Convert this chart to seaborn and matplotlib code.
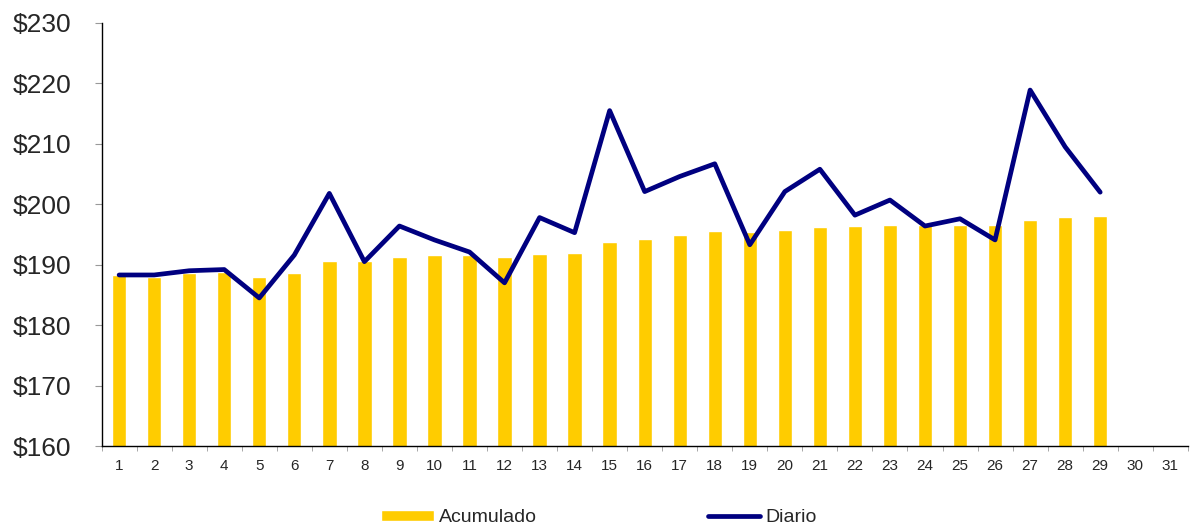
import numpy as np
import pandas as pd
import matplotlib
matplotlib.use("Agg")
import matplotlib.pyplot as plt
import seaborn as sns
from matplotlib.ticker import FuncFormatter, FixedLocator

# ------------------ Data ------------------
days = list(range(1, 32))
acumulado = [188.3, 188.0, 188.7, 188.8, 188.0, 188.6, 190.6, 190.6, 191.2, 191.6,
             191.6, 191.2, 191.8, 192.0, 193.7, 194.3, 194.9, 195.6, 195.4, 195.8,
             196.2, 196.4, 196.6, 196.6, 196.6, 196.6, 197.4, 197.9, 198.1]
diario = [188.3, 188.3, 189.0, 189.2, 184.5, 191.6, 201.8, 190.5, 196.4, 194.1,
          192.1, 187.0, 197.8, 195.3, 215.5, 202.1, 204.6, 206.7, 193.3, 202.1,
          205.8, 198.2, 200.7, 196.4, 197.6, 194.1, 218.9, 209.5, 202.0]

yellow = "#FFCC00"
navy = "#000080"

day_labels = [str(d) for d in days]
n = len(acumulado)
df = pd.DataFrame({"dia": day_labels[:n], "acumulado": acumulado, "diario": diario})
df["pos"] = df.index  # categorical position of each day

sns.set_style("white")
plt.rcParams["font.family"] = ["Liberation Sans", "DejaVu Sans"]

fig = plt.figure(figsize=(11.91, 5.27), dpi=100)
ax = fig.add_axes([0.0853, 0.1537, 0.912, 0.8027])

sns.barplot(data=df, x="dia", y="acumulado", order=day_labels, color=yellow,
            saturation=1, width=0.41, ax=ax, label="Acumulado")
sns.lineplot(data=df, x="pos", y="diario", color=navy, linewidth=3.4,
             ax=ax, label="Diario")

ax.set_ylim(160, 230)
ax.set_xlim(-0.5, len(days) - 0.5)
ax.set_yticks(np.arange(160, 231, 10))
ax.yaxis.set_major_formatter(FuncFormatter(lambda v, p: f"${v:.0f}"))
ax.tick_params(axis="y", labelsize=19, length=5, color="#999999", left=True, pad=17)

# x labels at the categories, tick marks between them
ax.set_xticks(range(len(days)))
ax.set_xticklabels(day_labels)
ax.tick_params(axis="x", which="major", length=0, labelsize=11, pad=9)
ax.xaxis.set_minor_locator(FixedLocator(np.arange(-0.5, len(days), 1)))
ax.tick_params(axis="x", which="minor", length=3.5, color="#999999", bottom=True)

ax.set_xlabel("")
ax.set_ylabel("")
sns.despine(ax=ax, top=True, right=True)
for s in ["left", "bottom"]:
    ax.spines[s].set_color("black")
    ax.spines[s].set_linewidth(1)

# legend: Acumulado first, then Diario
ax.get_legend().remove()
handles, labels = ax.get_legend_handles_labels()
order = [labels.index("Acumulado"), labels.index("Diario")]
fig.legend([handles[i] for i in order], [labels[i] for i in order],
           loc="center", bbox_to_anchor=(0.503, 0.018), ncol=2,
           frameon=False, fontsize=14, handlelength=2.7, handleheight=0.5,
           columnspacing=8.8, handletextpad=0.26)

fig.savefig("out.png", dpi=100)
